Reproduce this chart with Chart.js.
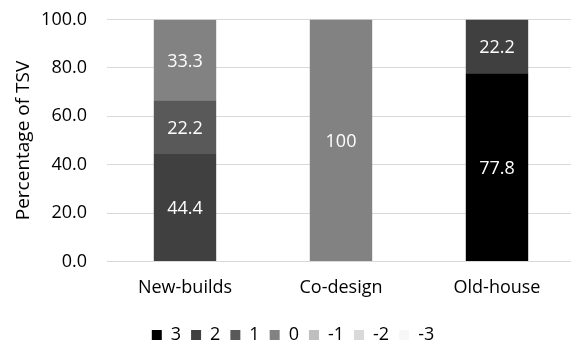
<!DOCTYPE html>
<html>
<head>
<meta charset="utf-8">
<script src="https://cdn.jsdelivr.net/npm/chart.js@4"></script>
<style>
    html, body { margin: 0; padding: 0; background: #fff; overflow: hidden; }
    #box { width: 575px; height: 354px; }
</style>
</head>
<body>
<div id="box"><canvas id="barChart"></canvas></div>
<script>
// dados
const categorias = ['New-builds', 'Co-design', 'Old-house'];
const series = ['3', '2', '1', '0', '-1', '-2', '-3'];
const v3 = [0, 0, 77.8];
const v2 = [44.4, 0, 22.2];
const v1 = [22.2, 0, 0];
const v0 = [33.3, 100, 0];
const vm1 = [0, 0, 0];
const vm2 = [0, 0, 0];
const vm3 = [0, 0, 0];
const valores = [v3, v2, v1, v0, vm1, vm2, vm3];
const cores = ['#000000', '#404040', '#595959', '#828282', '#bfbfbf', '#d9d9d9', '#f7f7f7'];
const ticksY = [0, 20, 40, 60, 80, 100];

const fonte = "'Open Sans', sans-serif";

// rótulos brancos dentro das barras
const rotulos = {
    id: 'rotulos',
    afterDatasetsDraw(chart) {
        const ctx = chart.ctx;
        ctx.save();
        ctx.fillStyle = '#ffffff';
        ctx.font = '18px ' + fonte;
        ctx.textAlign = 'center';
        ctx.textBaseline = 'middle';
        chart.data.datasets.forEach((ds, i) => {
            const meta = chart.getDatasetMeta(i);
            meta.data.forEach((bar, j) => {
                const v = ds.data[j];
                if (!v) return;
                ctx.fillText(String(v), bar.x, (bar.y + bar.base) / 2 + 1.5);
            });
        });
        ctx.restore();
    }
};

new Chart(document.getElementById('barChart'), {
    type: 'bar',
    data: {
        labels: categorias,
        datasets: series.map((s, i) => ({
            label: s,
            data: valores[i],
            backgroundColor: cores[i],
            borderWidth: 0,
            categoryPercentage: 0.4,
            barPercentage: 1
        }))
    },
    options: {
        responsive: true,
        maintainAspectRatio: false,
        animation: false,
        layout: { padding: { top: 0, left: 11, right: 0, bottom: 0 } },
        plugins: {
            legend: {
                position: 'bottom',
                labels: {
                    boxWidth: 10,
                    boxHeight: 10,
                    padding: 10,
                    color: '#000',
                    font: { family: fonte, size: 18 }
                }
            },
            tooltip: { enabled: false }
        },
        scales: {
            x: {
                stacked: true,
                grid: { display: false },
                border: { color: '#d9d9d9' },
                ticks: { color: '#000', padding: 8, font: { family: fonte, size: 18 } },
                afterFit: (s) => { s.height = 54.5; }
            },
            y: {
                stacked: true,
                min: 0,
                max: 100,
                afterBuildTicks: (s) => { s.ticks = ticksY.map(v => ({ value: v })); },
                grid: { color: '#d9d9d9', drawTicks: false },
                border: { display: false },
                ticks: {
                    color: '#000',
                    padding: 20,
                    font: { family: fonte, size: 18 },
                    callback: (v) => Number(v).toFixed(1)
                },
                title: {
                    display: true,
                    text: 'Percentage of TSV',
                    color: '#000',
                    font: { family: fonte, size: 19 },
                    padding: { top: 1, bottom: 0 }
                },
                afterFit: (s) => {
                    s.width = 96;
                    s.paddingTop = 19.5;
                }
            }
        }
    },
    plugins: [rotulos]
});
</script>
</body>
</html>
